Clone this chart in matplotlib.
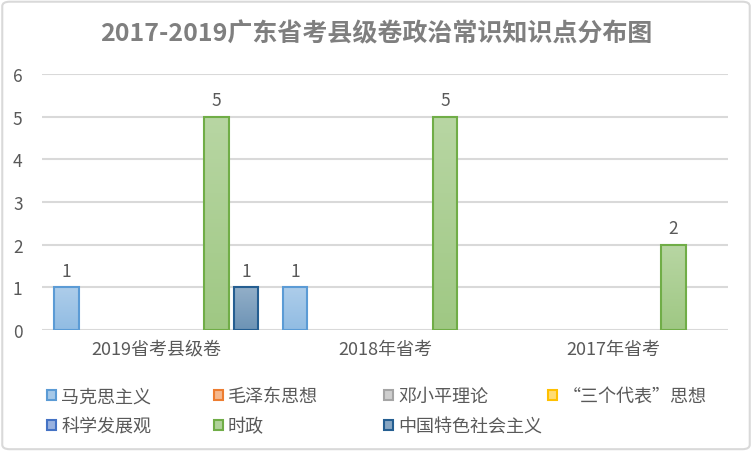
import matplotlib.pyplot as plt
import matplotlib.colors as mcolors
from matplotlib.patches import FancyBboxPatch, Rectangle
import numpy as np

plt.rcParams['font.family'] = ['Noto Sans CJK SC', 'DejaVu Sans']

# data
title = "2017-2019广东省考县级卷政治常识知识点分布图"
categories = ["2019省考县级卷", "2018年省考", "2017年省考"]
series = ["马克思主义", "毛泽东思想", "邓小平理论", "“三个代表”思想",
          "科学发展观", "时政", "中国特色社会主义"]
values = {
    "马克思主义": [1, 1, 0],
    "毛泽东思想": [0, 0, 0],
    "邓小平理论": [0, 0, 0],
    "“三个代表”思想": [0, 0, 0],
    "科学发展观": [0, 0, 0],
    "时政": [5, 5, 2],
    "中国特色社会主义": [1, 0, 0],
}
edge_colors = ["#5B9BD5", "#ED7D31", "#A5A5A5", "#FFC000",
               "#4472C4", "#70AD47", "#255E91"]

text_gray = "#595959"
grid_gray = "#D9D9D9"


def lighten(c, f):
    r, g, b = mcolors.to_rgb(c)
    return (r + (1 - r) * f, g + (1 - g) * f, b + (1 - b) * f)


fig = plt.figure(figsize=(7.52, 4.52), dpi=100)
fig.patch.set_facecolor("white")
fig.patches.append(FancyBboxPatch((0.003, 0.004), 0.994, 0.99,
                                  boxstyle="round,pad=0,rounding_size=0.01",
                                  transform=fig.transFigure, fc="white",
                                  ec=grid_gray, lw=1.5, zorder=-1))

ax = fig.add_axes([0.0559, 0.268, 0.9122, 0.566])
x = np.arange(len(categories))
step = 0.131
width = 0.107

for i, name in enumerate(series):
    vals = values[name]
    pos = x + (i - 3) * step
    top_c = lighten(edge_colors[i], 0.5)
    bot_c = lighten(edge_colors[i], 0.33)
    bars = ax.bar(pos, vals, width, facecolor="none", edgecolor=edge_colors[i],
                  linewidth=1.5, zorder=3, label=name)
    cmap = mcolors.LinearSegmentedColormap.from_list("g", [bot_c, top_c])
    for b, v in zip(bars, vals):
        if v <= 0:
            b.set_visible(False)
            continue
        im = ax.imshow(np.linspace(0, 1, 50).reshape(-1, 1), cmap=cmap,
                       origin="lower", aspect="auto", zorder=2,
                       extent=[b.get_x(), b.get_x() + b.get_width(), 0, v])
        im.set_clip_path(b)
        ax.text(b.get_x() + b.get_width() / 2, v + 0.17, str(v),
                ha="center", va="bottom", fontsize=12.5, color=text_gray)

ax.set_xlim(-0.5, 2.5)
ax.set_ylim(0, 6)
ax.set_yticks(range(0, 7))
ax.set_xticks(x)
ax.set_xticklabels(categories)
ax.tick_params(axis="both", length=0, labelsize=13, labelcolor=text_gray)
ax.tick_params(axis="y", pad=14, labelsize=12.5)
ax.tick_params(axis="x", pad=7)
ax.grid(axis="y", color=grid_gray, linewidth=1.5, zorder=0)
for s in ax.spines.values():
    s.set_visible(False)

fig.text(0.5, 0.925, title, ha="center", va="center", fontsize=18,
         fontweight="bold", color="#7F7F7F")

# legend, one column at a time so the columns line up evenly
handles = [Rectangle((0, 0), 1, 1, fc=lighten(c, 0.45), ec=c, lw=1.5)
           for c in edge_colors]
col_x = [0.062, 0.284, 0.510, 0.729]
for j in range(4):
    fig.legend(handles[j::4], series[j::4], loc="upper left",
               bbox_to_anchor=(col_x[j], 0.141), frameon=False,
               handlelength=0.5, handleheight=0.5, handletextpad=0.3,
               labelspacing=0.68, fontsize=13, labelcolor=text_gray,
               borderpad=0, borderaxespad=0)

fig.savefig("out.png", dpi=100)
